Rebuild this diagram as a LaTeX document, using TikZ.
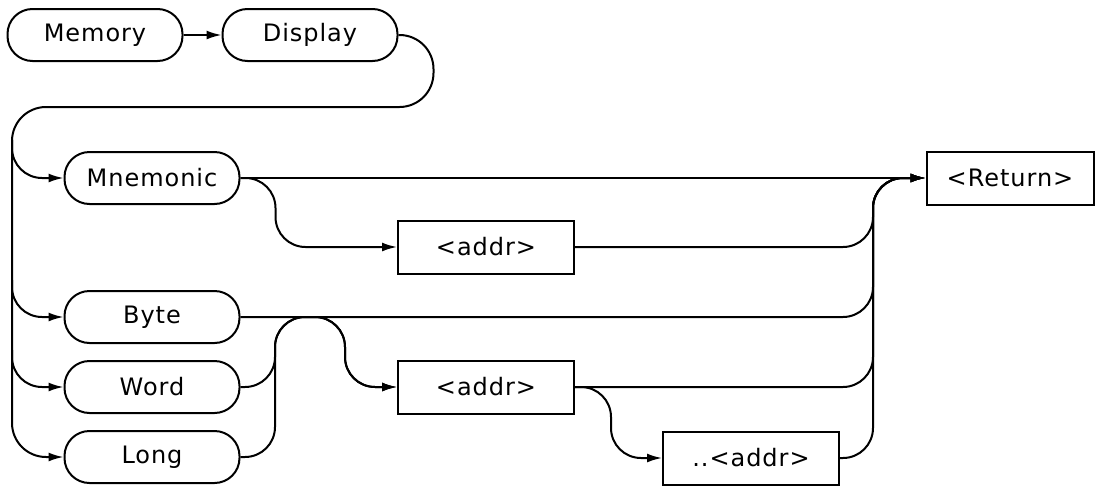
\documentclass[tikz,border=0pt]{standalone}
\usepackage{fontspec}
\setmainfont{DejaVu Sans}[LetterSpace=4]
\usetikzlibrary{arrows.meta}

\begin{document}
\begin{tikzpicture}[x=1pt,y=-1pt,line width=2pt,>={Latex[length=15pt,width=9pt]},
  font=\fontsize{24}{28}\selectfont,
  kw/.style={draw,rounded corners=25pt,minimum width=175pt,minimum height=52pt,inner sep=0pt},
  arg/.style={draw,minimum width=176pt,minimum height=53pt,inner sep=0pt},
  rail/.style={rounded corners=30pt}]
  \useasboundingbox (0,0) rectangle (1095,485);
  % keywords
  \node[kw] (mem) at (95,35) {Memory};
  \node[kw] (disp) at (310,35) {Display};
  \node[kw] (mnem) at (152,178) {Mnemonic};
  \node[kw] (byte) at (152,317) {Byte};
  \node[kw] (word) at (152,387) {Word};
  \node[kw] (long) at (152,457) {Long};
  % parameters
  \node[arg] (addrA) at (486,247) {<addr>};
  \node[arg] (addrB) at (486,387) {<addr>};
  \node[arg] (rng) at (751,458) {..<addr>};
  \node[arg,minimum width=167pt] (ret) at (1010,178) {<Return>};
  \coordinate (join) at (873,178);
  \draw[->] (mem) -- (disp);
  % left rail
  \draw[rail,->,rounded corners=34pt] (disp.east) -- ++(35,0) |- (12,107) |- (long.west);
  \draw[rail,->] (12,140) |- (mnem.west);
  \draw[rail,->] (12,280) |- (byte.west);
  \draw[rail,->] (12,350) |- (word.west);
  % mnemonic branch
  \draw[->] (mnem.east) -- (ret.west);
  \draw[rail,->] (mnem.east) -- ++(35,0) |- (addrA.west);
  \draw[rail,->] (addrA.east) -| (join) -- (ret.west);
  % byte/word/long branch
  \draw[rail,->] (byte.east) -| (join) -- (ret.west);
  \draw[rail,->] (word.east) -| (275,317) -| (345,387) -- (addrB.west);
  \draw[rail,->] (long.east) -| (275,317) -| (345,387) -- (addrB.west);
  \draw[rail,->] (addrB.east) -| (join) -- (ret.west);
  \draw[rail,->] (addrB.east) -- ++(36,0) |- (rng.west);
  \draw[rail,->] (rng.east) -| (join) -- (ret.west);
\end{tikzpicture}
\end{document}
